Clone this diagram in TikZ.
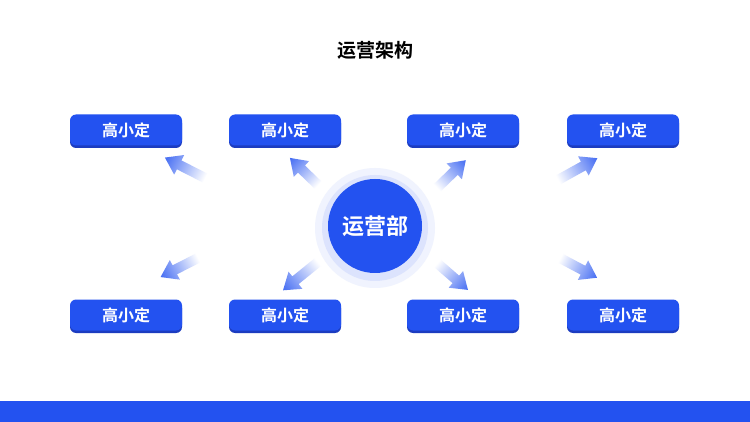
\documentclass[tikz,border=0pt]{standalone}
\usepackage{fontspec}
\newfontfamily\cjk{Noto Sans CJK SC}[BoldFont={Noto Sans CJK SC Bold}]
\definecolor{mb}{HTML}{2352F0}
\definecolor{mbd}{HTML}{1C3CC0}
\tikzset{
 box/.style={fill=mb,rounded corners=6pt,minimum width=112pt,minimum height=31pt,text=white,font=\cjk\bfseries\fontsize{16}{16}\selectfont,inner sep=0pt},
 boxshadow/.style={fill=mbd,rounded corners=6pt,minimum width=112pt,minimum height=31pt,inner sep=0pt},
}
\newcommand{\fatarrow}[4]{% x y angle length
 \begin{scope}[transform canvas={shift={(#1pt,-#2pt)},rotate=#3}]
 \shade[left color=white,right color=mb!85]
  (0,-5pt)--(#4pt-16pt,-5pt)--(#4pt-16pt,-11pt)--(#4pt,0)--(#4pt-16pt,11pt)--(#4pt-16pt,5pt)--(0,5pt)--cycle;
 \end{scope}}
\begin{document}
\begin{tikzpicture}[x=1pt,y=1pt]
\useasboundingbox (0,0) rectangle (750,-422);
\fill[white] (0,0) rectangle (750,-422);
\fill[mb] (0,-401) rectangle (750,-422);
\node[font=\cjk\bfseries\fontsize{19}{19}\selectfont] (title) at (375,-50) {运营架构};
% circle
\fill[mb!7] (375,-228) circle (60);
\fill[mb!16] (375,-228) circle (53);
\node[circle,fill=mb,minimum size=94pt,inner sep=0pt,text=white,font=\cjk\bfseries\fontsize{22}{22}\selectfont] (c) at (375,-226) {运营部};
% boxes
\foreach \n/\x/\y in {a/126/130,b/285/130,d/463/130,e/623/130,f/126/315,g/285/315,h/463/315,i/623/315}{
 \node[boxshadow] at (\x,-\y-2.5) {};
 \node[box] (\n) at (\x,-\y) {高小定};
}
\fatarrow{205}{178}{153}{45}
\fatarrow{318}{185}{136}{39}
\fatarrow{437}{188}{44}{40}
\fatarrow{558}{180}{29}{45}
\fatarrow{198}{258}{207}{42}
\fatarrow{318}{262}{219}{45}
\fatarrow{437}{263}{-41}{41}
\fatarrow{560}{258}{-28}{42}
\end{tikzpicture}
\end{document}
